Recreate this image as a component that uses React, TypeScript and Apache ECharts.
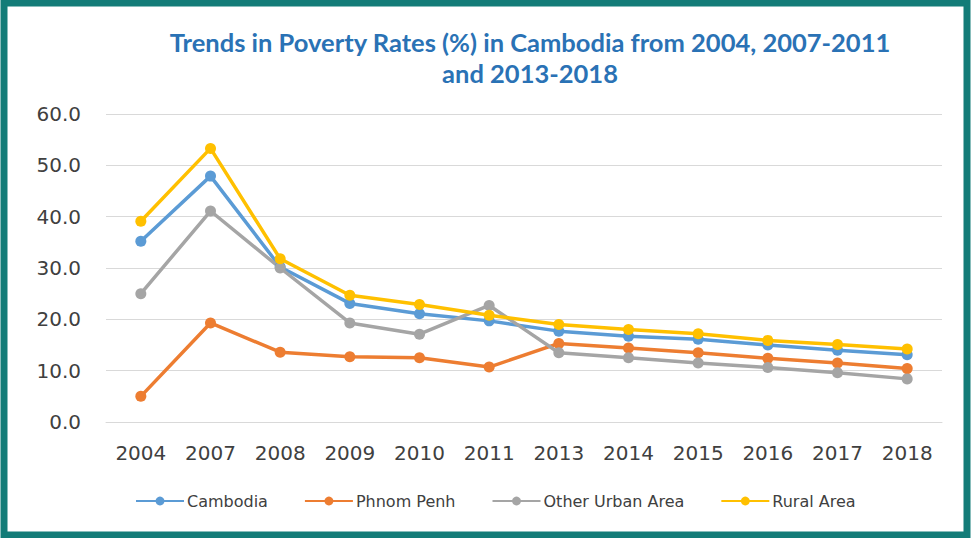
import React, { useEffect, useRef } from "react";
import * as echarts from "echarts";

const years = ["2004", "2007", "2008", "2009", "2010", "2011", "2013", "2014", "2015", "2016", "2017", "2018"];
const cambodia = [35.2, 47.9, 30.2, 23.1, 21.1, 19.7, 17.7, 16.7, 16.1, 15.0, 14.0, 13.1];
const phnomPenh = [5.0, 19.3, 13.6, 12.7, 12.5, 10.7, 15.3, 14.4, 13.5, 12.4, 11.5, 10.4];
const otherUrban = [25.0, 41.1, 30.0, 19.3, 17.1, 22.7, 13.5, 12.5, 11.5, 10.6, 9.6, 8.4];
const rural = [39.1, 53.3, 31.8, 24.7, 22.9, 20.8, 19.0, 18.0, 17.2, 15.9, 15.1, 14.2];

const seriesNames = ["Cambodia", "Phnom Penh", "Other Urban Area", "Rural Area"];
const seriesColors = ["#5b9bd5", "#ed7d31", "#a5a5a5", "#ffc000"];
const seriesData = [cambodia, phnomPenh, otherUrban, rural];

export default function App() {
  const ref = useRef<HTMLDivElement>(null);
  useEffect(() => {
    if (!ref.current) return;
    const chart = echarts.init(ref.current, null, { renderer: "svg" });
    const font = "DejaVu Sans";
    chart.setOption({
      animation: false,
      backgroundColor: "#ffffff",
      title: {
        text: "Trends in Poverty Rates (%) in Cambodia from 2004, 2007-2011\nand 2013-2018",
        left: 525,
        top: 21,
        textAlign: "center",
        textStyle: {
          fontFamily: "Lato",
          fontWeight: "bold",
          fontSize: 25.5,
          color: "#2a72b5",
          lineHeight: 31,
        },
      },
      graphic: [
        {
          type: "rect",
          shape: { x: 4, y: 3, width: 963, height: 532 },
          style: { fill: "none", stroke: "#137c78", lineWidth: 7 },
          z: 100,
        },
      ],
      legend: {
        data: seriesNames,
        bottom: 24,
        left: 130,
        itemWidth: 48,
        itemHeight: 11,
        itemGap: 36,
        textStyle: { fontFamily: font, fontSize: 16, color: "#404040", padding: [0, 0, 0, -2] },
      },
      grid: { left: 106, right: 32, top: 114, bottom: 116 },
      xAxis: {
        type: "category",
        data: years,
        boundaryGap: true,
        axisLine: { show: true, lineStyle: { color: "#d9d9d9", width: 1 } },
        axisTick: { show: false },
        axisLabel: { fontFamily: font, fontSize: 20, color: "#404040", margin: 21 },
      },
      yAxis: {
        type: "value",
        min: 0,
        max: 60,
        interval: 10,
        axisLine: { show: false },
        axisTick: { show: false },
        splitLine: { lineStyle: { color: "#d9d9d9", width: 1 } },
        axisLabel: {
          fontFamily: font,
          fontSize: 20,
          color: "#404040",
          margin: 25,
          formatter: (v: number) => v.toFixed(1),
        },
      },
      series: seriesData.map((d, i) => ({
        name: seriesNames[i],
        type: "line",
        data: d,
        symbol: "circle",
        symbolSize: 11,
        color: seriesColors[i],
        lineStyle: { width: 3.5, color: seriesColors[i] },
        itemStyle: { color: seriesColors[i] },
      })),
    });
    return () => chart.dispose();
  }, []);
  return (
    <div
      ref={ref}
      style={{ position: "fixed", left: 0, top: 0, width: 974, height: 538 }}
    />
  );
}
